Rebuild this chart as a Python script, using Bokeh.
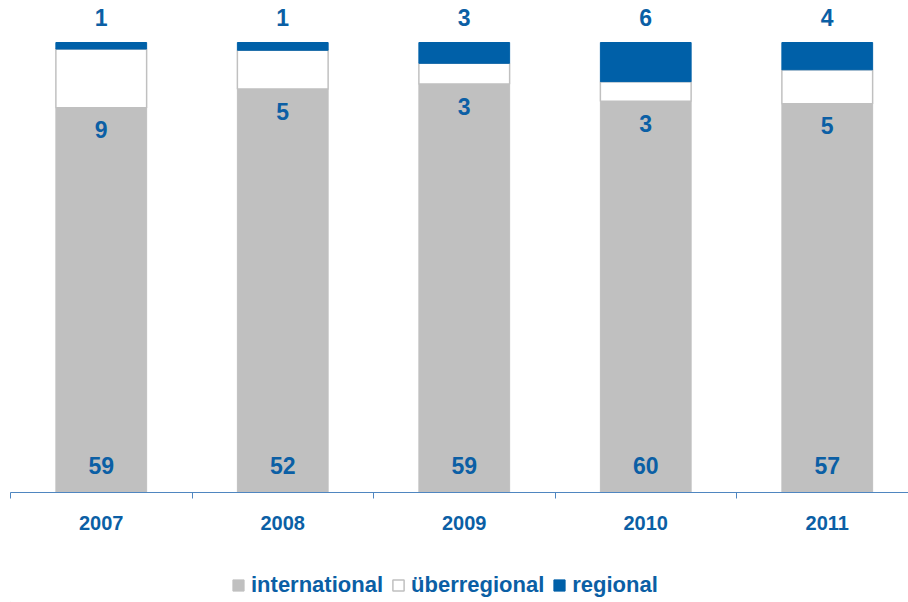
import numpy as np
from bokeh.plotting import figure
from bokeh.layouts import column
from bokeh.models import ColumnDataSource, Range1d, FixedTicker, Legend, LegendItem
from bokeh.core.properties import value
from bokeh.embed import file_html
from bokeh.resources import INLINE

years = ["2007", "2008", "2009", "2010", "2011"]
international = [59, 52, 59, 60, 57]
ueberregional = [9, 5, 3, 3, 5]
regional = [1, 1, 3, 6, 4]
series_names = ["international", "überregional", "regional"]

GRAY = "#c0c0c0"
BLUE = "#0060a8"
TXT = "#0b5fa5"
AXIS = "#4f86c0"
FONT = "Liberation Sans"

intl = np.array(international, float)
ueb = np.array(ueberregional, float)
reg = np.array(regional, float)
tot = intl + ueb + reg
x = np.arange(len(years)) + 0.5

src = ColumnDataSource(dict(
    x=x,
    y0=np.zeros(len(years)),
    y1=intl / tot,
    y2=(intl + ueb) / tot,
    y3=np.ones(len(years)),
    l_int=[str(v) for v in international],
    l_ueb=[str(v) for v in ueberregional],
    l_reg=[str(v) for v in regional],
))

p = figure(width=908, height=544, output_backend="svg", toolbar_location=None,
           x_range=Range1d(0, 898 / 181.5), y_range=Range1d(0, 484 / 450),
           y_axis_location=None, min_border_left=10, min_border_right=0,
           min_border_top=8, min_border_bottom=52)
p.outline_line_color = None
p.xgrid.visible = False
p.ygrid.visible = False

p.vbar(x="x", width=0.5, bottom="y0", top="y1", source=src,
       fill_color=GRAY, line_color=GRAY)
p.vbar(x="x", width=0.5, bottom="y1", top="y2", source=src,
       fill_color="white", line_color=GRAY, line_width=1.5)
p.vbar(x="x", width=0.5, bottom="y2", top="y3", source=src,
       fill_color=BLUE, line_color=BLUE)

common = dict(text_color=TXT, text_font=value(FONT), text_font_style="bold",
              text_font_size="23px", text_align="center", source=src)
p.text(x="x", y="y0", text="l_int", text_baseline="middle", y_offset=-27, **common)
p.text(x="x", y="y1", text="l_ueb", text_baseline="middle", y_offset=22, **common)
p.text(x="x", y="y3", text="l_reg", text_baseline="middle", y_offset=-25, **common)

ax = p.xaxis[0]
ax.ticker = FixedTicker(ticks=list(x), minor_ticks=list(np.arange(len(years) + 1)))
ax.major_label_overrides = {float(xi): yr for xi, yr in zip(x, years)}
ax.axis_line_color = AXIS
ax.axis_line_width = 1.2
ax.major_tick_line_color = None
ax.major_tick_out = 0
ax.major_tick_in = 0
ax.minor_tick_line_color = AXIS
ax.minor_tick_out = 6
ax.minor_tick_in = 0
ax.major_label_standoff = 17
ax.major_label_text_font = FONT
ax.major_label_text_font_style = "bold"
ax.major_label_text_font_size = "20px"
ax.major_label_text_color = TXT

# legend in its own strip below the chart
lg = figure(width=908, height=58, output_backend="svg", toolbar_location=None,
            x_axis_location=None, y_axis_location=None,
            x_range=Range1d(10, 11), y_range=Range1d(10, 11),
            min_border_left=0, min_border_right=0, min_border_top=0, min_border_bottom=0)
lg.outline_line_color = None
lg.xgrid.visible = False
lg.ygrid.visible = False
g1 = lg.vbar(x=0, width=0.5, bottom=0, top=0, fill_color=GRAY, line_color=GRAY)
g2 = lg.vbar(x=0, width=0.5, bottom=0, top=0, fill_color="white",
             line_color=GRAY, line_width=1.5)
g3 = lg.vbar(x=0, width=0.5, bottom=0, top=0, fill_color=BLUE, line_color=BLUE)
legend = Legend(items=[LegendItem(label=series_names[0], renderers=[g1]),
                       LegendItem(label=series_names[1], renderers=[g2]),
                       LegendItem(label=series_names[2], renderers=[g3])],
                orientation="horizontal", location=(221, 4),
                label_text_font=FONT, label_text_font_style="bold",
                label_text_font_size="22px", label_text_color=TXT,
                glyph_width=14, glyph_height=14, label_standoff=6, spacing=8,
                border_line_color=None, background_fill_alpha=0,
                padding=0, margin=0)
lg.add_layout(legend)

layout = column(p, lg, spacing=0)
open("out.html", "w").write(file_html(layout, INLINE))
